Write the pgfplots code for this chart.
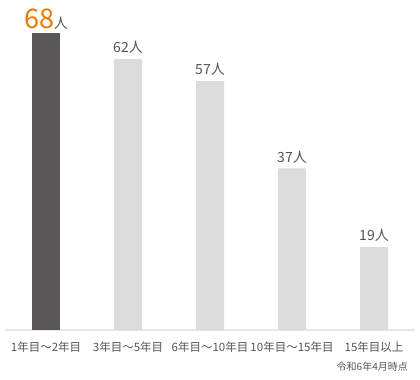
\documentclass[border=0pt]{standalone}
\usepackage{pgfplots}
\pgfplotsset{compat=1.18}
\usepackage{fontspec}
\setmainfont{Noto Sans CJK JP}
\definecolor{darkbar}{HTML}{595757}
\definecolor{lightbar}{HTML}{DCDCDC}
\definecolor{txt}{HTML}{555555}
\definecolor{accent}{HTML}{EE7800}
\definecolor{axisgray}{HTML}{E6E6E6}
\begin{document}
\begin{tikzpicture}
\begin{axis}[
  scale only axis,
  width=410bp, height=330bp,
  xmin=-0.5, xmax=4.5,
  ymin=0, ymax=75.55,
  ybar, bar width=28bp, bar shift=0pt,
  axis y line=none,
  axis x line*=bottom,
  x axis line style={draw=axisgray, line width=1.5bp, -},
  xtick={0,1,2,3,4},
  xticklabels={1年目〜2年目,3年目〜5年目,6年目〜10年目,10年目〜15年目,15年目以上},
  major tick length=0pt,
  xticklabel style={font=\fontsize{11.5bp}{12bp}\selectfont, text=txt, yshift=-8bp},
  /pgf/number format/assume math mode=true,
  clip=false,
  nodes near coords,
  every node near coord/.append style={text=txt, anchor=south, inner sep=0pt, yshift=5bp},
]
\addplot[fill=darkbar, draw=none,
  nodes near coords={{\fontsize{27bp}{27bp}\selectfont\textcolor{accent}{\pgfmathprintnumber{\pgfplotspointmeta}}}{\fontsize{14bp}{14bp}\selectfont 人}},
  every node near coord/.append style={yshift=-2bp}]
  coordinates {(0,68)};
\addplot[fill=lightbar, draw=none,
  nodes near coords={\fontsize{14bp}{14bp}\selectfont\pgfmathprintnumber{\pgfplotspointmeta}人}]
  coordinates {(1,62) (2,57) (3,37) (4,19)};
\coordinate (bl) at (rel axis cs:0,0);
\coordinate (tr) at (rel axis cs:1,1);
\end{axis}
\node[anchor=east, text=txt, font=\fontsize{10bp}{11bp}\selectfont, inner sep=0pt] at ([xshift=-7bp, yshift=-37bp]bl -| tr) {令和6年4月時点};
\path ([xshift=-5bp, yshift=-50bp]bl) rectangle ([xshift=5bp]tr);
\end{tikzpicture}
\end{document}
